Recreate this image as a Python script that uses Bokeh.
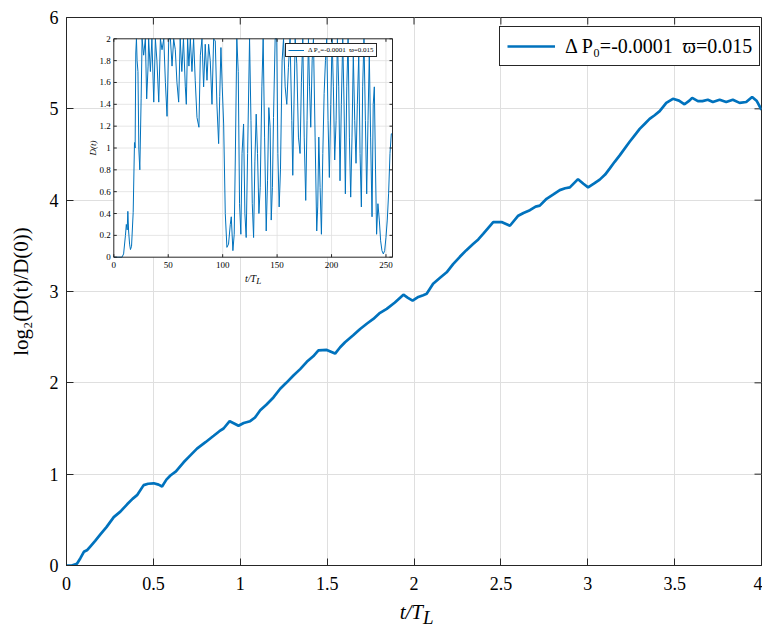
from bokeh.plotting import figure
from bokeh.layouts import column
from bokeh.models import Range1d, FixedTicker, Legend, LegendItem
from bokeh.core.properties import value
from bokeh.embed import file_html
from bokeh.resources import INLINE

# ---------------- data ----------------
t_main = [0, 0.03, 0.06, 0.08, 0.10, 0.12, 0.138, 0.165, 0.195, 0.23, 0.272, 0.31,
          0.349, 0.38, 0.406, 0.444, 0.47, 0.502, 0.53, 0.55, 0.575, 0.598, 0.63,
          0.674, 0.71, 0.751, 0.80, 0.847, 0.88, 0.904, 0.939, 0.965, 0.99, 1.02,
          1.057, 1.085, 1.115, 1.15, 1.191, 1.23, 1.265, 1.306, 1.345, 1.383, 1.42,
          1.45, 1.498, 1.546, 1.575, 1.603, 1.65, 1.69, 1.73, 1.766, 1.80, 1.843,
          1.89, 1.939, 1.965, 1.992, 2.025, 2.053, 2.073, 2.11, 2.15, 2.188, 2.225,
          2.264, 2.30, 2.34, 2.37, 2.398, 2.456, 2.504, 2.552, 2.60, 2.63, 2.667,
          2.70, 2.724, 2.763, 2.80, 2.839, 2.87, 2.897, 2.944, 2.975, 3.002, 3.035,
          3.069, 3.10, 3.126, 3.155, 3.184, 3.241, 3.27, 3.299, 3.33, 3.356, 3.385,
          3.414, 3.452, 3.49, 3.525, 3.557, 3.585, 3.601, 3.634, 3.66, 3.691, 3.72,
          3.759, 3.797, 3.835, 3.874, 3.912, 3.946, 3.973, 4.0]
v_main = [0, 0.0, 0.02, 0.08, 0.15, 0.17, 0.21, 0.27, 0.34, 0.42, 0.53, 0.59,
          0.67, 0.73, 0.77, 0.88, 0.895, 0.90, 0.885, 0.865, 0.94, 0.985, 1.03,
          1.13, 1.20, 1.28, 1.35, 1.42, 1.47, 1.50, 1.58, 1.555, 1.53, 1.56,
          1.58, 1.62, 1.70, 1.76, 1.84, 1.935, 2.0, 2.08, 2.15, 2.23, 2.29,
          2.355, 2.36, 2.32, 2.39, 2.445, 2.52, 2.59, 2.65, 2.70, 2.76, 2.81,
          2.88, 2.965, 2.93, 2.90, 2.94, 2.96, 2.975, 3.085, 3.15, 3.21, 3.30,
          3.38, 3.45, 3.52, 3.57, 3.63, 3.76, 3.76, 3.72, 3.83, 3.86, 3.89,
          3.93, 3.94, 4.015, 4.06, 4.11, 4.13, 4.14, 4.23, 4.18, 4.14, 4.18,
          4.225, 4.28, 4.345, 4.42, 4.49, 4.64, 4.71, 4.78, 4.84, 4.89, 4.93,
          4.975, 5.065, 5.11, 5.09, 5.05, 5.09, 5.12, 5.085, 5.085, 5.10, 5.075,
          5.10, 5.075, 5.10, 5.065, 5.075, 5.13, 5.085, 4.99]

t_inset = [0, 4, 7.5, 9, 10.7, 11.5, 12.3, 12.9, 13.6, 14.5, 15.3, 16.3, 17.8, 19,
           19.6, 20.2, 20.8, 21.4, 22.2, 23, 23.9, 25.1, 26, 27.4, 29, 30.2, 31.5,
           32, 33.6, 35, 36.7, 38.2, 39.6, 41.3, 42.8, 44.3, 45.9, 47.4, 48.9, 50.5,
           52, 53.5, 55, 56.5, 58, 59.6, 61, 62.5, 64, 65.7, 66.6, 67.8, 69, 70.3,
           71.8, 73.3, 74.8, 76.4, 78.2, 79.5, 81, 82.5, 84, 85.6, 87.1, 88.6, 90.2,
           91.7, 93.2, 94.7, 96.3, 97.3, 98.4, 99.6, 100.9, 102.4, 103.9, 105.4, 107,
           107.9, 109.4, 110.6, 111.6, 113, 114.3, 115.5, 116.7, 117.8, 119.2, 120.4,
           121.6, 122.9, 124.7, 126, 127.2, 128.4, 129.6, 130.8, 132, 133.3, 134.5,
           136, 137.2, 138.5, 140, 141.2, 142.4, 143.6, 144.6, 145.7, 146.7, 148.2,
           149.7, 150.7, 151.9, 153.1, 154.6, 155.9, 157.4, 158.9, 160.4, 161.9,
           163.5, 164.4, 165.5, 166.6, 168.1, 169.6, 171.1, 172.3, 173.6, 174.9,
           176.3, 177.5, 178.8, 179.8, 180.9, 182.2, 183.4, 184.9, 186.4, 187.3,
           188.3, 189.5, 190.7, 192, 193.2, 194.4, 195.6, 196.8, 198, 199.3, 200.5,
           201.7, 202.9, 204.2, 205.4, 206.6, 207.8, 209, 210.3, 211.5, 212.7, 214,
           215.2, 216.4, 217.6, 218.8, 220, 221.3, 222.5, 223.7, 225, 226.2, 227.4,
           228.6, 229.8, 231.1, 232.3, 233.5, 234.7, 235.9, 237.2, 238.3, 239.3,
           240.4, 241.4, 242.6, 243.9, 245.1, 246.3, 247.6, 248.8, 250, 251.2, 252.4,
           253.7, 254.9, 255.5]
d_inset = [0, 0, 0.0, 0.03, 0.2, 0.3, 0.25, 0.42, 0.24, 0.12, 0.07, 0.1, 0.41, 1.05,
           1.0, 1.87, 2.0, 1.8, 1.7, 0.99, 0.8, 1.45, 2.0, 1.85, 2.0, 1.45, 1.75,
           2.0, 1.7, 2.0, 1.42, 2.0, 1.8, 1.42, 2.0, 1.9, 2.0, 1.6, 1.29, 2.0,
           2.0, 1.75, 2.0, 1.9, 1.6, 1.42, 2.0, 1.7, 2.0, 1.56, 1.4, 2.0, 1.75, 2.0,
           1.7, 2.0, 1.62, 1.28, 1.19, 1.85, 2.0, 1.56, 1.95, 1.62, 1.95, 1.8, 1.4,
           2.0, 1.98, 1.4, 1.04, 1.47, 1.92, 1.56, 1.22, 0.4, 0.09, 0.12, 0.3,
           0.37, 0.06, 0.21, 0.89, 2.0, 1.7, 0.49, 0.21, 0.95, 1.22, 0.4,
           0.18, 0.95, 2.0, 1.25, 0.49, 0.18, 0.88, 1.31, 0.95, 0.4, 0.64,
           1.56, 2.0, 1.1, 0.24, 0.7, 1.37, 1.19, 0.34, 0.64, 1.28, 2.0,
           2.0, 0.95, 0.46, 0.8, 1.8, 2.0, 1.56, 1.4, 1.74, 2.0,
           1.25, 0.75, 1.4, 2.0, 1.77, 1.1, 0.95, 1.6, 2.0, 1.1,
           0.52, 1.25, 2.0, 1.56, 1.19, 1.8, 2.0, 1.1, 0.24, 0.46,
           1.1, 0.64, 0.21, 0.95, 1.5, 1.8, 2.0, 1.25, 0.73, 1.4, 2.0,
           1.56, 0.89, 1.25, 2.0, 1.56, 0.7, 1.4, 2.0, 1.4, 0.58, 1.56,
           2.0, 1.1, 0.55, 1.1, 1.86, 1.25, 0.86, 1.4, 1.86, 0.95, 0.46,
           1.56, 2.0, 1.25, 0.58, 1.25, 1.86, 1.1, 0.37, 1.4, 1.56,
           0.8, 0.21, 0.49, 0.34, 0.15, 0.06, 0.03, 0.06, 0.18, 0.34, 0.58,
           0.95, 1.13, 1.13]

x_ticks = [0, 0.5, 1, 1.5, 2, 2.5, 3, 3.5, 4]
x_tick_labels = ["0", "0.5", "1", "1.5", "2", "2.5", "3", "3.5", "4"]
y_ticks = [0, 1, 2, 3, 4, 5, 6]
y_tick_labels = ["0", "1", "2", "3", "4", "5", "6"]

inset_x_ticks = [0, 50, 100, 150, 200, 250]
inset_x_tick_labels = ["0", "50", "100", "150", "200", "250"]
inset_y_ticks = [0, 0.2, 0.4, 0.6, 0.8, 1.0, 1.2, 1.4, 1.6, 1.8, 2.0]
inset_y_tick_labels = ["0", "0.2", "0.4", "0.6", "0.8", "1", "1.2", "1.4", "1.6", "1.8", "2"]

legend_text = "\u0394 P\u2080=-0.0001  \u03d6=0.015"
y_label = "log\u2082(D(t)/D(0))"
x_label_main = "t/T"
x_label_sub = "L"
inset_y_label = "D(t)"

# ---------------- style / layout ----------------
FONT = "Liberation Serif"
BLUE = "#0072BD"
AX = "#262626"
GRID = "#dfdfdf"

BL, BR, BT, BB = 66, 1, 17, 32
FW, FH = 695, 548
LAB_H = 36
X0, X1, Y0, Y1 = 0, 4, 0, 6
IX0, IX1, IY0, IY1 = 0, 256, 0, 2
# inset frame in main-frame pixels (from left / from top)
IL, IR, IT, IB = 47.3, 326.0, 21.3, 239.7

p = figure(frame_width=FW, frame_height=FH,
           x_range=Range1d(X0, X1), y_range=Range1d(Y0, Y1),
           output_backend="svg", toolbar_location=None,
           min_border_left=BL, min_border_right=BR, min_border_top=BT,
           min_border_bottom=BB, background_fill_color="white",
           border_fill_color="white")

kx = (IX1 - IX0) / (IR - IL)
ky = (IY1 - IY0) / (IB - IT)
ixs = IX0 - IL * kx
iys = IY0 - (FH - IB) * ky
p.extra_x_ranges = {"ix": Range1d(ixs, ixs + FW * kx)}
p.extra_y_ranges = {"iy": Range1d(iys, iys + FH * ky)}

px_x = FW / (X1 - X0)
px_y = FH / (Y1 - Y0)

# axes
p.outline_line_color = AX
p.outline_line_alpha = 1
p.outline_line_width = 1
for ax in (p.xaxis[0], p.yaxis[0]):
    ax.axis_line_color = AX
    ax.major_tick_line_color = AX
    ax.major_tick_in = 7
    ax.major_tick_out = 0
    ax.minor_tick_line_color = None
    ax.major_label_text_font = FONT
    ax.major_label_text_font_size = "18px"
    ax.major_label_text_color = "black"
    ax.axis_label_text_font = FONT
    ax.axis_label_text_font_style = "normal"
    ax.axis_label_text_color = "black"

p.xaxis.ticker = FixedTicker(ticks=x_ticks)
p.xaxis.major_label_overrides = dict(zip(x_ticks, x_tick_labels))
p.xaxis.major_label_standoff = 11
p.yaxis.ticker = FixedTicker(ticks=y_ticks)
p.yaxis.major_label_overrides = dict(zip(y_ticks, y_tick_labels))
p.yaxis.major_label_standoff = 8
p.yaxis.axis_label = y_label
p.yaxis.axis_label_text_font_size = "21px"
p.yaxis.axis_label_standoff = 14

p.xgrid.grid_line_color = GRID
p.ygrid.grid_line_color = GRID
p.xgrid.ticker = FixedTicker(ticks=x_ticks)
p.ygrid.ticker = FixedTicker(ticks=y_ticks)

# ticks on top and right edges (box)
p.segment(x0=x_ticks, y0=[Y1] * len(x_ticks), x1=x_ticks,
          y1=[Y1 - 7 / px_y] * len(x_ticks), line_color=AX, line_width=1)
p.segment(x0=[X1] * len(y_ticks), y0=y_ticks, x1=[X1 - 7 / px_x] * len(y_ticks),
          y1=y_ticks, line_color=AX, line_width=1)

# main curve
main_r = p.line(t_main, v_main, line_color=BLUE, line_width=2.7)

# ---------------- inset ----------------
R = dict(x_range_name="ix", y_range_name="iy")
p.quad(left=[IX0], right=[IX1], bottom=[IY0], top=[IY1], fill_color="white",
       line_color=None, **R)
gx = [t for t in inset_x_ticks if IX0 < t < IX1]
gy = [d for d in inset_y_ticks if IY0 < d < IY1]
p.segment(x0=gx, y0=[IY0] * len(gx), x1=gx, y1=[IY1] * len(gx),
          line_color=GRID, line_width=0.8, **R)
p.segment(x0=[IX0] * len(gy), y0=gy, x1=[IX1] * len(gy), y1=gy,
          line_color=GRID, line_width=0.8, **R)
inset_r = p.line(t_inset, d_inset, line_color=BLUE, line_width=1, **R)
p.quad(left=[IX0], right=[IX1], bottom=[IY0], top=[IY1], fill_color=None,
       line_color=AX, line_width=1, **R)
tl = 3
p.segment(x0=inset_x_ticks, y0=[IY0] * len(inset_x_ticks), x1=inset_x_ticks,
          y1=[IY0 + tl * ky] * len(inset_x_ticks), line_color=AX, **R)
p.segment(x0=inset_x_ticks, y0=[IY1] * len(inset_x_ticks), x1=inset_x_ticks,
          y1=[IY1 - tl * ky] * len(inset_x_ticks), line_color=AX, **R)
p.segment(x0=[IX0] * len(inset_y_ticks), y0=inset_y_ticks,
          x1=[IX0 + tl * kx] * len(inset_y_ticks), y1=inset_y_ticks, line_color=AX, **R)
p.segment(x0=[IX1] * len(inset_y_ticks), y0=inset_y_ticks,
          x1=[IX1 - tl * kx] * len(inset_y_ticks), y1=inset_y_ticks, line_color=AX, **R)

p.text(x=inset_x_ticks, y=[IY0 - 8 * ky] * len(inset_x_ticks), text=inset_x_tick_labels,
       text_align="center", text_baseline="middle", text_font=value(FONT),
       text_font_size=value("9px"), text_color="black", **R)
p.text(x=[IX0 - 3 * kx] * len(inset_y_ticks), y=inset_y_ticks, text=inset_y_tick_labels,
       text_align="right", text_baseline="middle", text_font=value(FONT),
       text_font_size=value("9px"), text_color="black", **R)
icx = (IX0 + IX1) / 2
p.text(x=[icx + 3 * kx], y=[IY0 - 21 * ky], text=[x_label_main], text_align="right",
       text_baseline="alphabetic", text_font=value(FONT), text_font_size=value("10px"),
       text_font_style="italic", text_color="black", **R)
p.text(x=[icx + 3 * kx], y=[IY0 - 24 * ky], text=[x_label_sub], text_align="left",
       text_baseline="alphabetic", text_font=value(FONT), text_font_size=value("9px"),
       text_font_style="italic", text_color="black", **R)
p.text(x=[IX0 - 21 * kx], y=[(IY0 + IY1) / 2], text=[inset_y_label], angle=1.5708,
       text_align="center", text_baseline="middle", text_font=value(FONT),
       text_font_size=value("9px"), text_font_style="italic", text_color="black", **R)

# ---------------- legends ----------------
leg = Legend(items=[LegendItem(label=legend_text, renderers=[main_r])],
             location=(433, 499), margin=0, padding=7, spacing=0,
             label_text_font=FONT, label_text_font_size="20px",
             label_text_color="black", glyph_width=48, glyph_height=24,
             label_standoff=10, border_line_color=AX, border_line_width=1,
             border_line_alpha=1, background_fill_color="white",
             background_fill_alpha=1)
p.add_layout(leg)

ileg = Legend(items=[LegendItem(label=legend_text, renderers=[inset_r])],
              location=(219, 508), margin=0, padding=2, spacing=0,
              label_text_font=FONT, label_text_font_size="7px",
              label_text_color="black", glyph_width=16, glyph_height=8,
              label_standoff=4, label_height=8, border_line_color=AX,
              border_line_width=1, border_line_alpha=1,
              background_fill_color="white", background_fill_alpha=1)
p.add_layout(ileg)

# ---------------- x-axis title strip (t/T with subscript L) ----------------
q = figure(frame_width=FW, frame_height=LAB_H, x_range=p.x_range,
           y_range=Range1d(0, LAB_H), output_backend="svg", toolbar_location=None,
           min_border_left=BL, min_border_right=BR, min_border_top=0,
           min_border_bottom=0, outline_line_color=None,
           background_fill_color="white", border_fill_color="white")
q.axis.visible = False
q.grid.visible = False
q.text(x=[(X0 + X1) / 2], y=[LAB_H - 14], x_offset=9, text=[x_label_main],
       text_align="right", text_baseline="alphabetic", text_font=value(FONT),
       text_font_size=value("21px"), text_font_style="italic", text_color="black")
q.text(x=[(X0 + X1) / 2], y=[LAB_H - 20], x_offset=9, text=[x_label_sub],
       text_align="left", text_baseline="alphabetic", text_font=value(FONT),
       text_font_size=value("19px"), text_font_style="italic", text_color="black")

layout = column(p, q, spacing=0)
open("out.html", "w").write(file_html(layout, INLINE))
